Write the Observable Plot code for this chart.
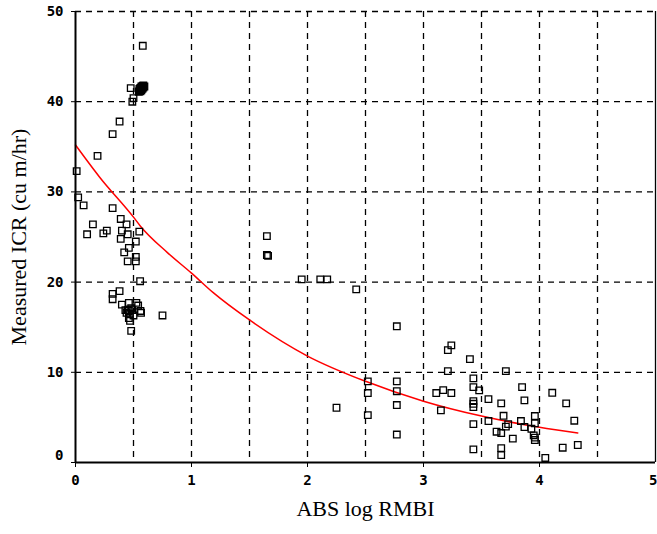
<!DOCTYPE html>
<html>
<head>
<meta charset="utf-8">
<script src="https://cdn.jsdelivr.net/npm/d3@7"></script>
<script src="https://cdn.jsdelivr.net/npm/@observablehq/plot@0.6"></script>
<style>
  html, body { margin: 0; padding: 0; background: white; }
</style>
</head>
<body>
<div id="chart"></div>
<script>
// Measured points (ABS log RMBI, Measured ICR)
const measX = [
  0.58, 0.476, 0.50, 0.49, 0.38, 0.32, 0.19,
  0.546, 0.551, 0.555, 0.559, 0.564, 0.568, 0.572, 0.577, 0.581, 0.585, 0.559, 0.568, 0.577, 0.585, 0.551, 0.559, 0.568, 0.594,
  0.01, 0.023, 0.07, 0.32, 0.15, 0.10, 0.24, 0.27, 0.39, 0.44, 0.40, 0.45, 0.39, 0.52, 0.55, 0.46, 0.42, 0.52, 0.52, 0.45,
  0.557, 0.38, 0.32, 0.32, 0.40, 0.46, 0.525, 0.54, 0.43, 0.45, 0.49, 0.56, 0.565, 0.47, 0.46, 0.47, 0.75, 0.48, 0.44, 0.50, 0.48, 0.46,
  1.65, 1.65, 1.66, 1.95, 2.11, 2.17, 2.42, 2.77, 2.25, 2.52, 2.52, 2.52, 2.77, 2.77, 2.77, 2.77,
  3.24, 3.21, 3.40, 3.21, 3.71, 3.43, 3.11, 3.17, 3.24, 3.43, 3.48, 3.56, 3.15, 3.43, 3.43, 3.43, 3.67, 3.85, 3.87, 3.69,
  3.56, 3.43, 3.84, 3.73, 3.71, 3.63, 3.67, 3.87, 3.77, 3.43, 3.67, 3.67, 4.11, 4.23, 3.96, 3.96, 3.93, 3.95, 3.96, 3.96,
  4.30, 4.20, 4.33, 4.05
];
const measY = [
  46.2, 41.5, 40.4, 40.0, 37.8, 36.4, 34.0,
  41.09, 41.20, 41.31, 41.36, 41.47, 41.53, 41.64, 41.69, 41.75, 41.81, 41.14, 41.25, 41.42, 41.58, 41.42, 41.53, 41.69, 41.69,
  32.3, 29.4, 28.5, 28.2, 26.4, 25.3, 25.4, 25.7, 27.0, 26.4, 25.7, 25.3, 24.8, 24.5, 25.6, 23.8, 23.3, 22.8, 22.3, 22.3,
  20.1, 19.0, 18.7, 18.1, 17.5, 17.7, 17.7, 17.4, 16.9, 16.9, 16.9, 16.8, 16.6, 16.5, 16.0, 15.7, 16.3, 14.6, 16.6, 16.3, 17.1, 16.8,
  25.1, 23.0, 22.9, 20.3, 20.3, 20.3, 19.2, 15.1, 6.07, 9.0, 7.7, 5.26, 9.0, 7.9, 6.37, 3.1,
  12.98, 12.46, 11.46, 10.13, 10.13, 9.32, 7.7, 8.03, 7.7, 8.36, 8.0, 7.03, 5.78, 6.81, 6.51, 6.15, 6.55, 8.36, 6.89, 5.18,
  4.6, 4.26, 4.6, 4.26, 3.97, 3.41, 3.27, 3.93, 2.64, 1.46, 1.6, 0.83, 7.73, 6.55, 5.15, 4.34, 3.74, 3.01, 2.75, 2.49,
  4.63, 1.64, 1.94, 0.5
];

// Fitted curve (red)
const fitX = [0, 0.21, 0.5, 0.56, 0.79, 1.0, 1.19, 1.5, 2.0, 2.5, 3.0, 3.5, 4.0, 4.33];
const fitY = [35.2, 31.6, 27.2, 26.2, 23.3, 21.0, 18.8, 15.8, 11.8, 9.0, 6.8, 5.15, 3.9, 3.27];

// Ticks and labels
const xTicks = [0, 1, 2, 3, 4];
const xLastTick = [5];
const yTicks = [0, 10, 20, 30, 40, 50];
const xGridTicks = [0.5, 1, 1.5, 2, 2.5, 3, 3.5, 4, 4.5];
const yGridTicks = [10, 20, 30, 40, 50];
const xLabel = "ABS log RMBI";
const yLabel = "Measured ICR (cu m/hr)";

const points = measX.map((x, i) => ({x, y: measY[i]}));
const fit = fitX.map((x, i) => ({x, y: fitY[i]}));

const serif = "'Liberation Serif', 'Times New Roman', serif";

const chart = Plot.plot({
  width: 657,
  height: 534,
  marginLeft: 75,
  marginRight: 2,
  marginTop: 11,
  marginBottom: 72,
  x: {domain: [0, 5]},
  y: {domain: [0, 50]},
  style: {
    fontFamily: "'DejaVu Sans Mono', monospace",
    fontWeight: "bold",
    fontSize: "14px",
    background: "white",
    color: "black"
  },
  marks: [
    Plot.gridX(xGridTicks, {stroke: "black", strokeOpacity: 1, strokeDasharray: "6,5", strokeWidth: 1.3}),
    Plot.gridY(yGridTicks, {stroke: "black", strokeOpacity: 1, strokeDasharray: "6,5", strokeWidth: 1.3}),
    Plot.ruleX([5], {stroke: "black", strokeWidth: 1.3}),
    Plot.line(fit, {x: "x", y: "y", stroke: "red", strokeWidth: 1.5, curve: "monotone-x"}),
    Plot.dot(points, {x: "x", y: "y", symbol: "square", r: 3.7, stroke: "black", strokeWidth: 1.3, fill: "none"}),
    Plot.axisX({ticks: xTicks, tickSize: 5, tickPadding: 8, label: null, tickFormat: d => String(d)}),
    Plot.axisX({ticks: xLastTick, tickSize: 5, tickPadding: 8, label: null, textAnchor: "end", dx: 2, tickFormat: d => String(d)}),
    Plot.axisY({ticks: yTicks, tickSize: 4, tickPadding: 8, label: null, tickFormat: d => d === 0 ? "" : String(d)}),
    Plot.axisY({ticks: [0], tickSize: 0, tickPadding: 12, dy: -7, label: null, tickFormat: d => String(d)}),
    Plot.ruleX([0], {stroke: "black", strokeWidth: 2}),
    Plot.ruleY([0], {stroke: "black", strokeWidth: 2}),
    Plot.text([xLabel], {text: d => d, frameAnchor: "bottom", dy: 53, fontFamily: serif, fontWeight: "normal", fontSize: 22}),
    Plot.text([yLabel], {text: d => d, frameAnchor: "left", textAnchor: "middle", rotate: -90, dx: -57, fontFamily: serif, fontWeight: "normal", fontSize: 22})
  ]
});
document.getElementById("chart").appendChild(chart);
</script>
</body>
</html>
